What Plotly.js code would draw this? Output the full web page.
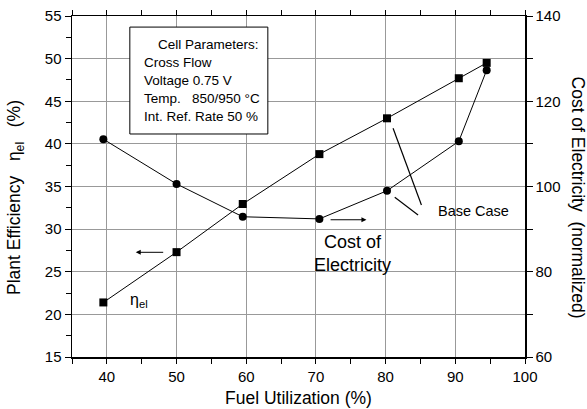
<!DOCTYPE html>
<html><head><meta charset="utf-8">
<script src="https://cdn.plot.ly/plotly-3.0.1.min.js"></script>
<style>body{margin:0;background:#fff}#c{width:587px;height:409px}</style>
</head><body><div id="c"></div>
<script>
const fuelUtil = [39.5, 50.0, 59.5, 70.5, 80.2, 90.5, 94.5];
const efficiency = [21.4, 27.3, 32.95, 38.8, 43.0, 47.7, 49.5];
const costOfElectricity = [111.1, 100.6, 92.9, 92.4, 99.0, 110.6, 127.3];
const boxLines = ["Cell Parameters:", "Cross Flow", "Voltage 0.75 V", "Temp.   850/950 °C", "Int. Ref. Rate 50 %"];
const leftTitle = 'Plant Efficiency   η<sub>el</sub>   (%)';
const rightTitle = 'Cost of Electricity  (normalized)';

const F = "Liberation Sans, Arial, sans-serif";
const traces = [
  {x: fuelUtil, y: efficiency, type: 'scatter', mode: 'lines+markers',
   line: {color: '#000', width: 1}, marker: {symbol: 'square', size: 8, color: '#000'}, yaxis: 'y'},
  {x: fuelUtil, y: costOfElectricity, type: 'scatter', mode: 'lines+markers',
   line: {color: '#000', width: 1}, marker: {symbol: 'circle', size: 8, color: '#000'}, yaxis: 'y2'}
];

const annotations = [];
const lineY = [51.6, 49.5, 47.4, 45.3, 43.2];
boxLines.forEach((t, i) => {
  annotations.push({x: i === 0 ? 47.1 : 45.0, y: lineY[i], xref: 'x', yref: 'y', text: t, showarrow: false,
    xanchor: 'left', yanchor: 'middle', font: {family: F, size: 13.5, color: '#000'}});
});
annotations.push({x: 44.6, y: 21.6, xref: 'x', yref: 'y', text: 'η<sub>el</sub>', showarrow: false,
  font: {family: F, size: 16, color: '#000'}});
annotations.push({x: 75.2, y: 27.1, xref: 'x', yref: 'y', text: 'Cost of<br>Electricity', showarrow: false,
  font: {family: F, size: 18, color: '#000'}});
annotations.push({x: 92.65, y: 32.1, xref: 'x', yref: 'y', text: 'Base Case', showarrow: false,
  font: {family: F, size: 14.5, color: '#000'}});
// axis titles
annotations.push({x: -0.1247, y: 0.4677, xref: 'paper', yref: 'paper', text: leftTitle, showarrow: false,
  textangle: -90, xanchor: 'center', yanchor: 'middle', font: {family: F, size: 17.5, color: '#000'}});
annotations.push({x: 1.117, y: 0.4677, xref: 'paper', yref: 'paper', text: rightTitle, showarrow: false,
  textangle: 90, xanchor: 'center', yanchor: 'middle', font: {family: F, size: 17.5, color: '#000'}});
// arrows
annotations.push({x: 44.15, y: 27.28, ax: 48.3, ay: 27.28, xref: 'x', yref: 'y', axref: 'x', ayref: 'y',
  text: '', showarrow: true, arrowhead: 2, arrowsize: 1, arrowwidth: 1, arrowcolor: '#000'});
annotations.push({x: 77.25, y: 31.1, ax: 71.89, ay: 31.1, xref: 'x', yref: 'y', axref: 'x', ayref: 'y',
  text: '', showarrow: true, arrowhead: 2, arrowsize: 1, arrowwidth: 1, arrowcolor: '#000'});

const shapes = [
  {type: 'rect', xref: 'x', yref: 'y', x0: 43.3, x1: 63.1, y0: 41.16, y1: 53.7,
   line: {color: '#000', width: 1}, fillcolor: '#fff', layer: 'above'},
  {type: 'line', xref: 'x', yref: 'y', x0: 81.07, y0: 41.83, x1: 85.14, y1: 32.83, line: {color: '#000', width: 1.2}},
  {type: 'line', xref: 'x', yref: 'y', x0: 81.31, y0: 33.73, x1: 84.66, y1: 31.66, line: {color: '#000', width: 1.2}}
];

const layout = {
  width: 587, height: 409, margin: {l: 72, r: 62, t: 16, b: 52},
  paper_bgcolor: '#fff', plot_bgcolor: '#fff', showlegend: false,
  font: {family: F, size: 15, color: '#000'},
  xaxis: {range: [35, 100], tickvals: [40,50,60,70,80,90,100], showgrid: true, gridcolor: '#999', gridwidth: 1,
    showline: true, linecolor: '#000', linewidth: 1.5, mirror: 'ticks', ticks: 'outside', ticklen: 5, tickcolor: '#000',
    minor: {dtick: 5, tick0: 35, ticks: 'outside', ticklen: 5, tickcolor: '#000', showgrid: false},
    zeroline: false, tickfont: {family: F, size: 15},
    title: {text: 'Fuel Utilization (%)', font: {family: F, size: 17.5}, standoff: 8}},
  yaxis: {range: [15, 55], dtick: 5, showgrid: true, gridcolor: '#999', gridwidth: 1,
    showline: true, linecolor: '#000', linewidth: 1.5, ticks: 'outside', ticklen: 6, tickcolor: '#000',
    minor: {dtick: 2.5, ticks: 'outside', ticklen: 5, tickcolor: '#000', showgrid: false},
    zeroline: false, tickfont: {family: F, size: 15}},
  yaxis2: {range: [60, 140], dtick: 20, overlaying: 'y', side: 'right', showgrid: false,
    showline: true, linecolor: '#000', linewidth: 1.5, ticks: 'outside', ticklen: 6, tickcolor: '#000',
    minor: {dtick: 10, ticks: 'outside', ticklen: 6, tickcolor: '#000', showgrid: false},
    zeroline: false, tickfont: {family: F, size: 15}},
  annotations: annotations, shapes: shapes
};
Plotly.newPlot('c', traces, layout, {displayModeBar: false, staticPlot: true});
</script></body></html>
